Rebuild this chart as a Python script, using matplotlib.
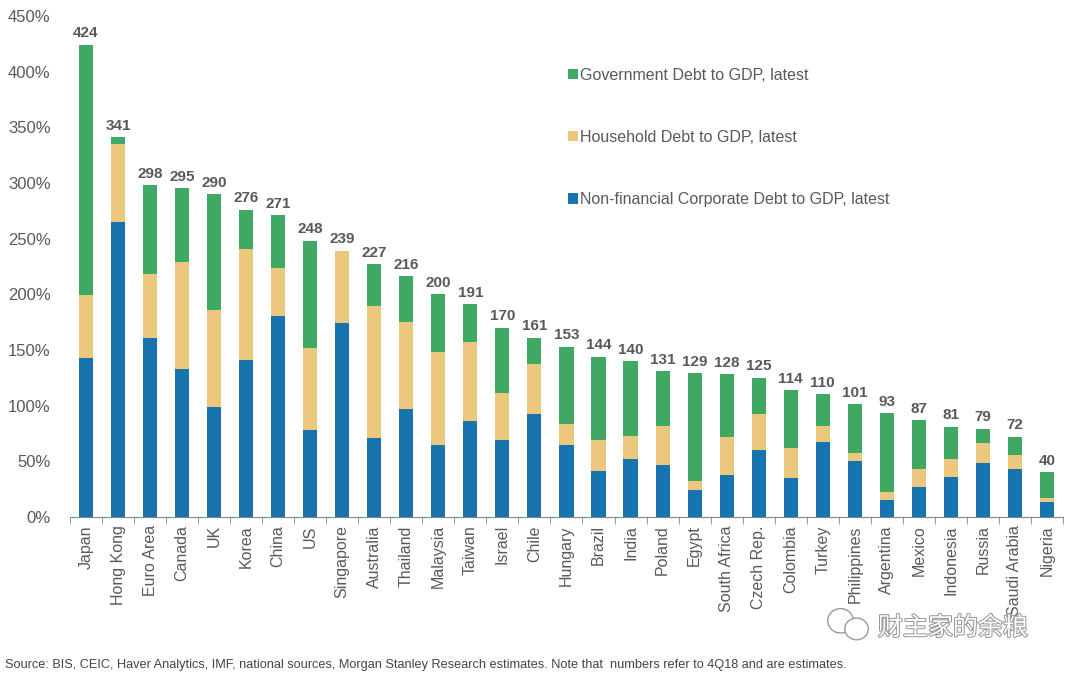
import numpy as np
import matplotlib
matplotlib.use("Agg")
import matplotlib.pyplot as plt
import matplotlib.patheffects as pe
from matplotlib.patches import Ellipse

# --- Données (en % du PIB) ---
countries = ["Japan", "Hong Kong", "Euro Area", "Canada", "UK", "Korea", "China", "US",
             "Singapore", "Australia", "Thailand", "Malaysia", "Taiwan", "Israel", "Chile",
             "Hungary", "Brazil", "India", "Poland", "Egypt", "South Africa", "Czech Rep.",
             "Colombia", "Turkey", "Philippines", "Argentina", "Mexico", "Indonesia",
             "Russia", "Saudi Arabia", "Nigeria"]
corporate = [143, 265, 161, 133, 99, 141, 180, 78, 174, 71, 97, 65, 86, 69, 92,
             65, 41, 52, 47, 24, 38, 60, 35, 67, 50, 15, 27, 36, 48, 43, 13]
household = [56, 70, 57, 96, 87, 100, 44, 74, 65, 118, 78, 83, 71, 42, 45,
             18, 28, 21, 35, 8, 34, 32, 27, 15, 7, 7, 16, 16, 18, 13, 4]
totals = [424, 341, 298, 295, 290, 276, 271, 248, 239, 227, 216, 200, 191, 170, 161,
          153, 144, 140, 131, 129, 128, 125, 114, 110, 101, 93, 87, 81, 79, 72, 40]
government = [t - c - h for t, c, h in zip(totals, corporate, household)]

yticks = [0, 50, 100, 150, 200, 250, 300, 350, 400, 450]

BLUE = "#1874ae"
YELLOW = "#ebc87d"
GREEN = "#3fa862"
GREY = "#595959"

plt.rcParams["font.family"] = ["Liberation Sans", "DejaVu Sans"]

fig = plt.figure(figsize=(10.68, 6.77), dpi=100)
ax = fig.add_axes([0.0655, 0.2365, 0.9298, 0.74])

x = np.arange(len(countries))
w = 0.44
c = np.array(corporate)
h = np.array(household)
g = np.array(government)

b1 = ax.bar(x, c, w, color=BLUE, label="Non-financial Corporate Debt to GDP, latest")
b2 = ax.bar(x, h, w, bottom=c, color=YELLOW, label="Household Debt to GDP, latest")
b3 = ax.bar(x, g, w, bottom=c + h, color=GREEN, label="Government Debt to GDP, latest")

for xi, t in zip(x, totals):
    ax.text(xi, t + 4, str(t), ha="center", va="bottom", fontsize=11,
            fontweight="bold", color=GREY)

ax.set_xlim(-0.5, len(countries) - 0.5)
ax.set_ylim(0, 450)
ax.set_yticks(yticks)
ax.set_yticklabels([f"{v}%" for v in yticks], fontsize=12, color=GREY)
ax.tick_params(axis="y", length=0, pad=14)

ax.set_xticks(x)
ax.set_xticklabels(countries, rotation=90, fontsize=11.5, color=GREY)
ax.tick_params(axis="x", length=0, pad=6)
ax.set_xticks(np.arange(-0.5, len(countries), 1), minor=True)
ax.tick_params(axis="x", which="minor", length=5, color="#888888")

for s in ["top", "right", "left"]:
    ax.spines[s].set_visible(False)
ax.spines["bottom"].set_color("#888888")

leg = ax.legend(handles=[b3, b2, b1], loc="upper left", bbox_to_anchor=(0.487, 0.925),
                frameon=False, fontsize=11.5, handlelength=0.6, handleheight=0.6,
                handletextpad=0.15, labelspacing=2.95)
for t in leg.get_texts():
    t.set_color(GREY)

# --- Source ---
fig.text(0.005, 0.014, "Source: BIS, CEIC, Haver Analytics, IMF, national sources, Morgan Stanley "
         "Research estimates. Note that  numbers refer to 4Q18 and are estimates.",
         fontsize=9.2, color="#444444", family=["Liberation Sans Narrow", "Liberation Sans"])

# --- Filigrane ---
wm = fig.text(0.822, 0.062, "财主家的余粮", fontsize=18, color="white",
              family=["Noto Sans CJK SC", "DejaVu Sans"])
wm.set_path_effects([pe.withStroke(linewidth=1.5, foreground="#9a9a9a")])
for (ex, ey, ew, eh) in [(0.787, 0.083, 0.024, 0.036), (0.802, 0.071, 0.022, 0.032)]:
    fig.add_artist(Ellipse((ex, ey), ew, eh, transform=fig.transFigure,
                           facecolor="white", edgecolor="#9a9a9a", lw=1))

fig.savefig("out.png", dpi=100)
